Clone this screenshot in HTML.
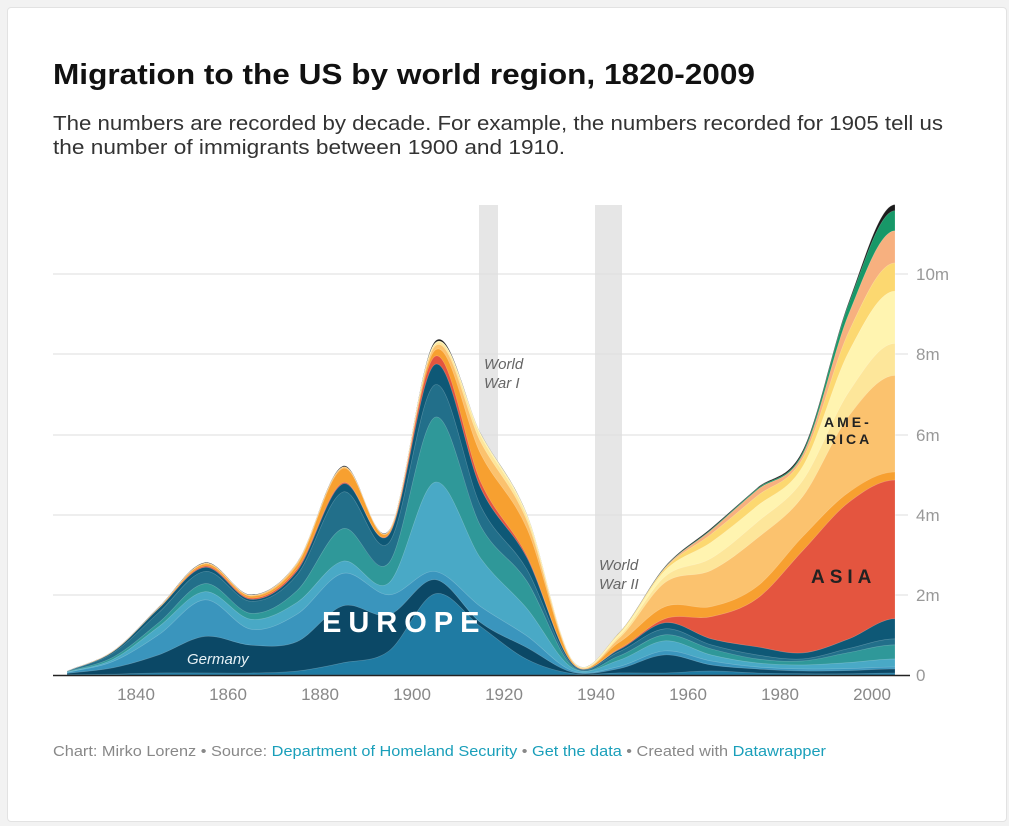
<!DOCTYPE html>
<html><head><meta charset="utf-8"><style>
body{margin:0;background:#f2f2f2;font-family:"Liberation Sans",sans-serif;}
.card{position:absolute;left:7px;top:7px;width:998px;height:813px;background:#fff;border:1px solid #e2e2e2;border-radius:4px;}
</style></head><body>
<div class="card"></div>
<svg id="s" width="1009" height="826" style="position:absolute;left:0;top:0" font-family="Liberation Sans, sans-serif">
<text x="53" y="84" font-size="29" font-weight="bold" fill="#111" textLength="702" lengthAdjust="spacingAndGlyphs">Migration to the US by world region, 1820-2009</text>
<text x="53" y="130" font-size="20" fill="#333" textLength="890" lengthAdjust="spacingAndGlyphs">The numbers are recorded by decade. For example, the numbers recorded for 1905 tell us</text>
<text x="53" y="154" font-size="20" fill="#333" textLength="512" lengthAdjust="spacingAndGlyphs">the number of immigrants between 1900 and 1910.</text>
<rect x="479" y="205" width="19" height="470" fill="#e6e6e6"/>
<rect x="595" y="205" width="27" height="470" fill="#e6e6e6"/>
<g stroke="#dedede" stroke-width="1">
<line x1="53" x2="908" y1="274" y2="274"/><line x1="53" x2="908" y1="354" y2="354"/>
<line x1="53" x2="908" y1="435" y2="435"/><line x1="53" x2="908" y1="515" y2="515"/>
<line x1="53" x2="908" y1="595" y2="595"/></g>
<g id="areas"></g>
<line x1="53" x2="910" y1="675.5" y2="675.5" stroke="#222" stroke-width="1.5"/>
<g font-size="17" fill="#999">
<text x="916" y="280">10m</text><text x="916" y="360">8m</text><text x="916" y="441">6m</text>
<text x="916" y="521">4m</text><text x="916" y="601">2m</text><text x="916" y="681">0</text></g>
<g font-size="17" fill="#888" text-anchor="middle">
<text x="136" y="700">1840</text><text x="228" y="700">1860</text><text x="320" y="700">1880</text>
<text x="412" y="700">1900</text><text x="504" y="700">1920</text><text x="596" y="700">1940</text>
<text x="688" y="700">1960</text><text x="780" y="700">1980</text><text x="872" y="700">2000</text></g>
<g font-size="15" font-style="italic" fill="#666">
<text x="484" y="369">World</text><text x="484" y="388">War I</text>
<text x="599" y="570">World</text><text x="599" y="589">War II</text></g>
<text x="322" y="632" font-size="29" font-weight="bold" fill="#fff" letter-spacing="7">EUROPE</text>
<text x="187" y="664" font-size="15" font-style="italic" fill="#e8f2f6">Germany</text>
<g font-size="14" font-weight="bold" fill="#222" letter-spacing="3">
<text x="824" y="427">AME-</text><text x="826" y="444">RICA</text></g>
<text x="811" y="583" font-size="19" font-weight="bold" fill="#222" letter-spacing="5">ASIA</text>
<text x="53" y="756" font-size="15" fill="#888" textLength="773" lengthAdjust="spacingAndGlyphs">Chart: Mirko Lorenz • Source: <tspan fill="#1a9fba">Department of Homeland Security</tspan> • <tspan fill="#1a9fba">Get the data</tspan> • Created with <tspan fill="#1a9fba">Datawrapper</tspan></text>
</svg>
<script>
var tot=[.1,.6,1.7,2.8,2.0,2.8,5.2,3.6,8.3,6.0,4.0,.35,1.05];
var L=[
["#1f7ba3",[.01,.02,.05,.05,.05,.1,.3,.6,2.0,1.2,.4,.05,.05, .05,.1,.05,.03,.03,.05]],
["#0b4866",[.03,.15,.45,.9,.7,.75,1.4,.9,.35,.1,.3,.05,.1, .45,.15,.1,.07,.08,.1]],
["#3a95bd",[.02,.15,.5,.9,.4,.7,.8,.5,.2,.4,.3,.05,.05, .1,.1,.05,.05,.05,.05]],
["#49a9c6",[.01,.05,.2,.2,.25,.3,.3,.3,2.2,1.2,.7,.1,.15, .25,.15,.1,.1,.15,.2]],
["#2f9899",[.01,.05,.1,.2,.15,.3,.8,.5,1.6,.8,.7,.05,.1, .15,.15,.1,.1,.25,.35]],
["#226f8a",[.01,.1,.25,.3,.3,.4,.9,.5,.8,.5,.3,.05,.1, .15,.1,.1,.05,.1,.15]],
["#0e5876",[0,.03,.1,.1,.05,.1,.2,.2,.5,.45,.3,.05,.05, .15,.15,.2,.15,.24,.5]],
["#e4553f",[0,0,0,.03,.03,.05,.03,.02,.2,.15,.05,.01,.02, .1,.55,1.2,2.55,3.4,3.45]],
["#f7a030",[0,.01,.02,.05,.05,.1,.35,.05,.15,.7,.7,.05,.15, .3,.25,.3,.35,.25,.2]],
["#fbc26e",[0,0,0,.02,.02,.05,.03,.02,.1,.3,.2,.03,.1, .6,.9,1.2,1.0,1.9,2.4]],
["#fde69a",[0,0,0,0,0,0,0,0,.05,.15,.1,.02,.05, .15,.3,.4,.4,.6,.8]],
["#fff4b0",[0,0,0,0,0,0,0,0,.02,.05,.05,.01,.05, .15,.4,.4,.35,1.0,1.3]],
["#fcd870",[0,0,0,0,0,0,0,0,0,0,0,0,.02, .05,.2,.25,.2,.5,.7]],
["#f7b07f",[0,0,0,0,0,0,0,0,0,0,0,0,0, .02,.1,.15,.1,.45,.8]],
["#179868",[0,0,0,0,0,0,0,0,0,0,0,0,0, .01,.02,.03,.05,.25,.5]],
["#1c1c1c",[.01,.01,.02,.02,.02,.02,.03,.02,.05,.02,.02,.01,.01, .02,.03,.02,.05,.05,.15]]];
var n=19,sc=[];for(var i=0;i<n;i++){var s=0;L.forEach(function(l){s+=l[1][i]});sc.push(i<tot.length?tot[i]/s:1);}
var cum=[],run=new Array(n).fill(0);
L.forEach(function(l){cum.push(run.map(function(r,i){return run[i]=r+l[1][i]*sc[i];}));});
function X(i){return 136+(1825+10*i-1840)*4.6;}function Y(v){return 675-40.2*v;}
function path(c){var xs=[],ys=[];for(var i=0;i<n;i++){xs.push(X(i));ys.push(Y(c[i]));}
var h=46,m=[];m[0]=(ys[1]-ys[0])/h;m[n-1]=0;
for(var i=1;i<n-1;i++)m[i]=(ys[i+1]-ys[i-1])/(2*h);
var p="M"+xs[0]+",675L"+xs[0]+","+ys[0];
for(var i=0;i<n-1;i++){p+="C"+(xs[i]+h/3)+","+(ys[i]+m[i]*h/3)+" "+(xs[i+1]-h/3)+","+(ys[i+1]-m[i+1]*h/3)+" "+xs[i+1]+","+ys[i+1];}
return p+"L"+xs[n-1]+",675Z";}
var g=document.getElementById("areas"),hh="";
for(var k=L.length-1;k>=0;k--)hh+='<path d="'+path(cum[k])+'" fill="'+L[k][0]+'" stroke="rgba(255,255,255,0.25)" stroke-width="0.6"/>';
g.innerHTML=hh;
</script>
</body></html>
